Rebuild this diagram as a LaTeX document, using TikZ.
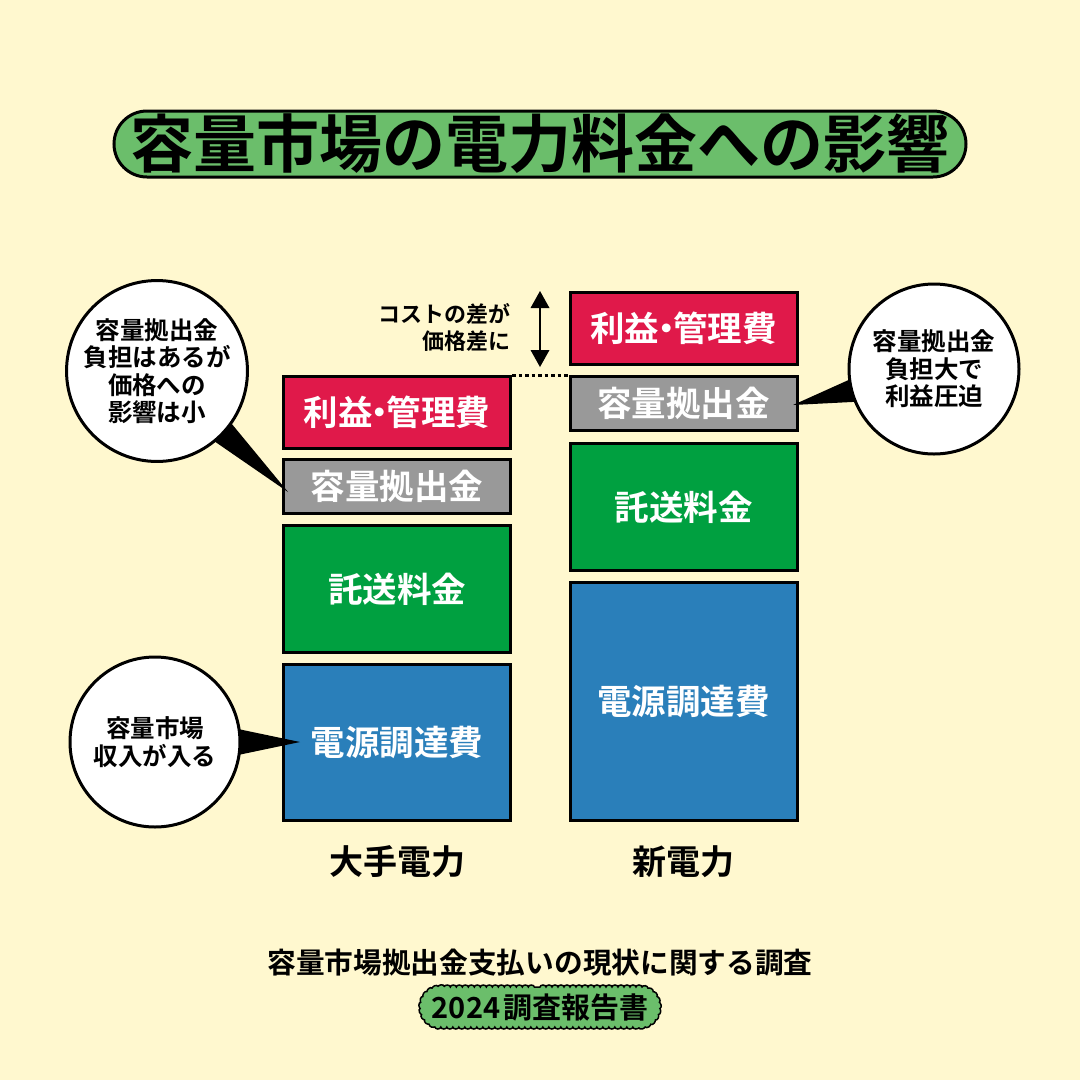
\documentclass[tikz,border=0pt]{standalone}
\usepackage{fontspec}
\setmainfont{Noto Sans CJK JP}[BoldFont={Noto Sans CJK JP Bold}]
\usetikzlibrary{arrows.meta,calc,decorations.pathmorphing,shapes.misc}
\definecolor{bg}{HTML}{FFF8CF}
\definecolor{titlegreen}{HTML}{6BBE6B}
\definecolor{barred}{HTML}{E0194A}
\definecolor{bargray}{HTML}{999999}
\definecolor{bargreen}{HTML}{00A040}
\definecolor{barblue}{HTML}{2A7FBA}
\newcommand{\mdot}{\kern-0.3em・\kern-0.3em}
\tikzset{
  bar/.style={draw=black, line width=3pt, minimum width=227pt, text=white,
    inner sep=0pt, font=\bfseries\fontsize{34.5}{34.5}\selectfont},
  callout/.style={circle, draw=black, line width=3pt, fill=white, inner sep=0pt,
    align=center, font=\bfseries\fontsize{24.5}{27.5}\selectfont},
  tail/.style={fill=black},
  lab/.style={font=\bfseries\fontsize{34}{34}\selectfont, text=black},
}
\begin{document}
\begin{tikzpicture}[x=1pt,y=-1pt]
\fill[bg] (0,0) rectangle (1080,1080);
\useasboundingbox (0,0) rectangle (1080,1080);
% title
\node[draw=black, line width=3pt, fill=titlegreen, rounded corners=33pt,
  minimum width=852pt, minimum height=66pt, inner sep=0pt,
  font=\bfseries\fontsize{63}{63}\selectfont] (title) at (540,144) {容量市場の電力料金への影響};
% left column
\node[bar, fill=barred, minimum height=72pt] (lred) at (397,412.5) {利益\mdot 管理費};
\node[bar, fill=bargray, minimum height=54pt] (lgray) at (397,486.5) {容量拠出金};
\node[bar, fill=bargreen, minimum height=127pt] (lgreen) at (397,589) {託送料金};
\node[bar, fill=barblue, minimum height=156pt] (lblue) at (397,742.5) {電源調達費};
% right column
\node[bar, fill=barred, minimum height=72pt] (rred) at (683.5,328.5) {利益\mdot 管理費};
\node[bar, fill=bargray, minimum height=54pt] (rgray) at (683.5,403.5) {容量拠出金};
\node[bar, fill=bargreen, minimum height=127pt] (rgreen) at (683.5,507) {託送料金};
\node[bar, fill=barblue, minimum height=238pt] (rblue) at (683.5,701.5) {電源調達費};
% column labels
\node[lab] (lab1) at (397,862) {大手電力};
\node[lab] (lab2) at (683.5,862) {新電力};
% dotted line
\draw[line width=3pt, dash pattern=on 3.5pt off 3pt] (lred.north east) -- (rgray.north west);
% double arrow
\coordinate (atop) at (540,291);
\coordinate (abot) at (540,367);
\draw[line width=2.6pt] ($(atop)+(0,10)$) -- ($(abot)+(0,-10)$);
\fill ($(atop)$) -- ($(atop)+(-9.5,17)$) -- ($(atop)+(9.5,17)$) -- cycle;
\fill ($(abot)$) -- ($(abot)+(-9.5,-17)$) -- ($(abot)+(9.5,-17)$) -- cycle;
\node[anchor=east, align=right, inner sep=0pt, font=\bfseries\fontsize{22}{27}\selectfont] (diff) at (511,327) {コストの差が\\価格差に};
% callouts
\coordinate (c1) at (157,371);
\coordinate (t1) at (288,492);
\fill[tail] ($(c1)+(33:80)$) -- (t1) -- ($(c1)+(53:80)$) -- cycle;
\node[callout, minimum size=174pt] (call1) at (c1) {容量拠出金\\負担はあるが\\価格への\\影響は小};
\coordinate (c2) at (934,369);
\coordinate (t2) at (793,405);
\fill[tail] ($(c2)+(156:80)$) -- (t2) -- ($(c2)+(174:80)$) -- cycle;
\node[callout, minimum size=170pt] (call2) at (c2) {容量拠出金\\負担大で\\利益圧迫};
\coordinate (c3) at (155,742);
\coordinate (t3) at (300,742);
\fill[tail] ($(c3)+(-10:80)$) -- (t3) -- ($(c3)+(10:80)$) -- cycle;
\node[callout, minimum size=170pt] (call3) at (c3) {容量市場\\収入が入る};
% footer
\node[font=\bfseries\fontsize{28.7}{28.7}\selectfont] (foot) at (540,963) {容量市場拠出金支払いの現状に関する調査};
\node[rounded rectangle, draw=black, line width=1.5pt, fill=titlegreen, minimum width=238pt, minimum height=40pt, inner sep=0pt,
  decorate, decoration={bumps, segment length=12pt, amplitude=2pt}] (badge) at (540,1007) {};
\node[font=\bfseries\fontsize{29}{29}\selectfont] (badgetext) at (badge.center) {2024\kern0.1em 調査報告書};
\end{tikzpicture}
\end{document}
